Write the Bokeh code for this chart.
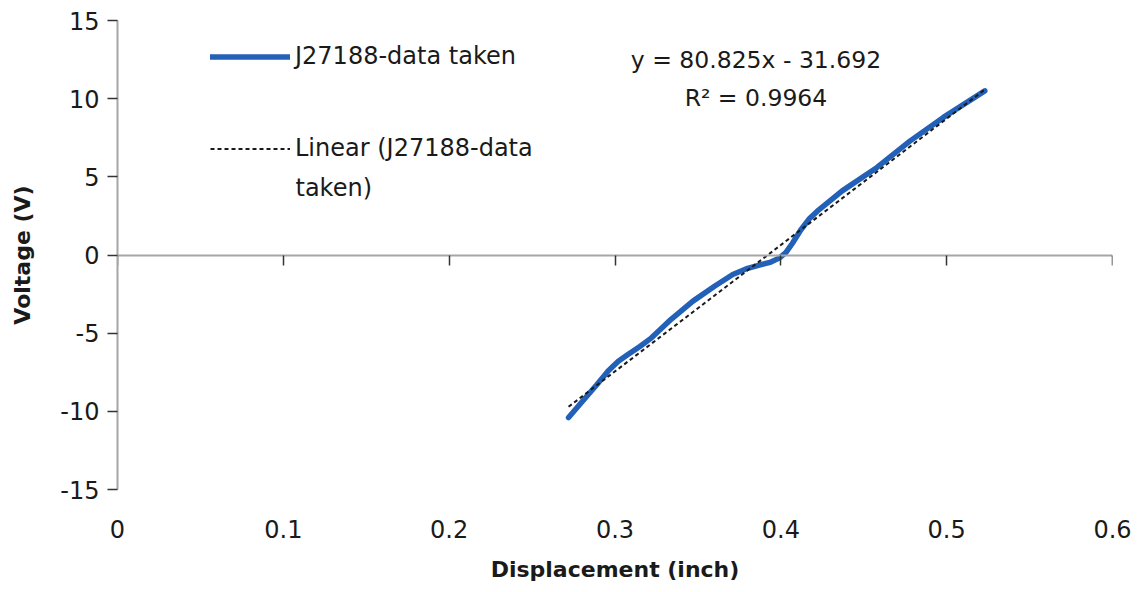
from bokeh.plotting import figure
from bokeh.models import LinearAxis, FixedTicker, Label, Legend, LegendItem, PrintfTickFormatter
from bokeh.embed import file_html
from bokeh.resources import INLINE

# ---- data ----
disp = [0.272, 0.280, 0.289, 0.296, 0.302, 0.308, 0.315, 0.322, 0.334, 0.347, 0.360, 0.371,
        0.380, 0.387, 0.394, 0.399, 0.403, 0.407, 0.412, 0.417, 0.422, 0.437, 0.458, 0.478, 0.498, 0.523]
volt = [-10.4, -9.4, -8.3, -7.4, -6.8, -6.35, -5.85, -5.3, -4.1, -2.95, -2.0, -1.25,
        -0.85, -0.65, -0.45, -0.2, 0.15, 0.75, 1.6, 2.3, 2.8, 4.1, 5.6, 7.3, 8.8, 10.5]
slope = 80.825
intercept = -31.692
r2 = 0.9964
x_ticks = [0, 0.1, 0.2, 0.3, 0.4, 0.5, 0.6]
y_ticks = [-15, -10, -5, 0, 5, 10, 15]
series_name = "J27188-data taken"
trend_name_1 = "Linear (J27188-data"
trend_name_2 = "taken)"

trend_x = [disp[0], disp[-1]]
trend_y = [slope * v + intercept for v in trend_x]

FONT = "DejaVu Sans"
TXT = "#1a1a1a"
AXC = "#a6a6a6"
FS = "24px"

p = figure(width=1139, height=592, output_backend="svg", toolbar_location=None,
           x_range=(0, 0.6), y_range=(-15, 15),
           min_border_left=117, min_border_right=27, min_border_top=20, min_border_bottom=103)
p.outline_line_color = None
p.xgrid.visible = False
p.ygrid.visible = False
p.background_fill_color = "white"

# bottom axis: labels only
xa = p.xaxis[0]
xa.ticker = FixedTicker(ticks=x_ticks)
xa.axis_line_color = None
xa.major_tick_line_color = None
xa.minor_tick_line_color = None
xa.major_tick_out = 0
xa.major_label_standoff = 30
xa.major_label_text_font = FONT
xa.major_label_text_font_size = FS
xa.major_label_text_color = TXT
xa.axis_label = "Displacement (inch)"
xa.axis_label_text_font = FONT
xa.axis_label_text_font_style = "bold"
xa.axis_label_text_font_size = "22px"
xa.axis_label_text_color = TXT
xa.axis_label_standoff = 16

# axis line through y = 0 with ticks pointing down
x0 = LinearAxis(ticker=FixedTicker(ticks=x_ticks), fixed_location=0)
x0.axis_line_color = AXC
x0.axis_line_width = 2
x0.major_tick_line_color = "#333333"
x0.major_tick_line_width = 1.5
x0.major_tick_in = 10
x0.major_tick_out = 0
x0.minor_tick_line_color = None
x0.major_label_text_alpha = 0
x0.major_label_text_font_size = "1px"
x0.major_label_standoff = 0
p.add_layout(x0, "above")

ya = p.yaxis[0]
ya.ticker = FixedTicker(ticks=y_ticks)
ya.formatter = PrintfTickFormatter(format="%d")
ya.axis_line_color = AXC
ya.axis_line_width = 2
ya.major_tick_line_color = "#333333"
ya.major_tick_line_width = 1.5
ya.major_tick_out = 10
ya.major_tick_in = 0
ya.minor_tick_line_color = None
ya.major_label_standoff = 8
ya.major_label_text_font = FONT
ya.major_label_text_font_size = FS
ya.major_label_text_color = TXT
ya.axis_label = "Voltage (V)"
ya.axis_label_text_font = FONT
ya.axis_label_text_font_style = "bold"
ya.axis_label_text_font_size = "22px"
ya.axis_label_text_color = TXT
ya.axis_label_standoff = 22

r_data = p.line(disp, volt, line_color="#2360b8", line_width=5.5, line_cap="round", line_join="round")
r_trend = p.line(trend_x, trend_y, line_color="#1a1a1a", line_width=2, line_dash="4 3")

legend = Legend(items=[LegendItem(label=series_name, renderers=[r_data]),
                       LegendItem(label=trend_name_1, renderers=[r_trend])],
                location=(93, 327), orientation="vertical")
legend.border_line_color = None
legend.background_fill_alpha = 0
legend.padding = 0
legend.margin = 0
legend.glyph_width = 80
legend.glyph_height = 27
legend.label_height = 27
legend.label_standoff = 5
legend.spacing = 64
legend.label_text_font = FONT
legend.label_text_font_size = FS
legend.label_text_color = TXT
p.add_layout(legend, "center")

cont = Label(x=178, y=302, x_units="screen", y_units="screen", text=trend_name_2,
             text_align="left", text_baseline="middle", text_font=FONT,
             text_font_size=FS, text_color=TXT)
p.add_layout(cont)

eq = Label(x=0.385, y=12.5, text=f"y = {slope}x - {abs(intercept)}", text_align="center",
           text_baseline="middle", text_font=FONT, text_font_size="23.5px", text_color=TXT)
rr = Label(x=0.385, y=10.06, text=f"R² = {r2}", text_align="center",
           text_baseline="middle", text_font=FONT, text_font_size="23.5px", text_color=TXT)
p.add_layout(eq)
p.add_layout(rr)

open("out.html", "w").write(file_html(p, INLINE))
